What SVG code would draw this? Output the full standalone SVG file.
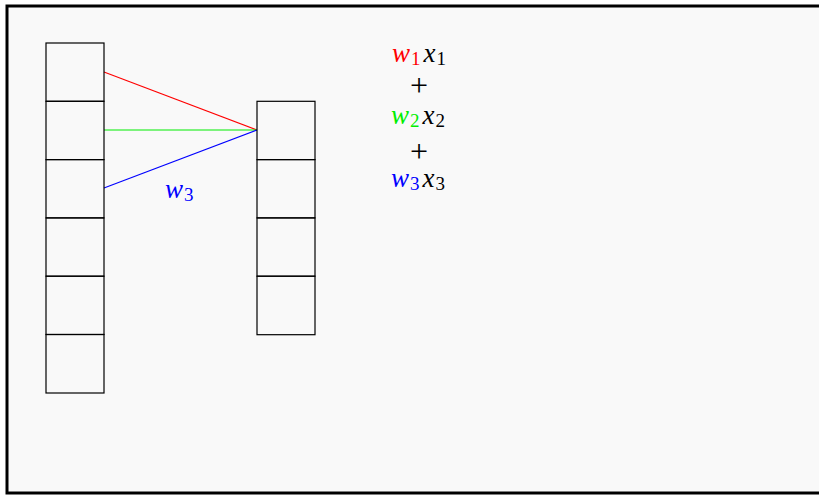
<svg xmlns="http://www.w3.org/2000/svg" width="819" height="495" viewBox="0 0 819 495">
<style>
.cell{fill:none;stroke:#000;stroke-width:1.2}
.t{font-family:"Liberation Serif","DejaVu Serif",serif;font-size:27px}
.i{font-style:italic}
.s{font-size:19px}
.p{font-family:"Liberation Serif","DejaVu Serif",serif;font-size:32px}
</style>
<rect x="0" y="0" width="819" height="495" fill="#fff"/>
<rect x="7" y="6" width="820" height="487" fill="#f9f9f9" stroke="#000" stroke-width="3"/>
<g id="connectors" fill="none" stroke-width="1.1">
<line x1="104" y1="72" x2="257" y2="130" stroke="#ff0000"/>
<line x1="104" y1="130" x2="257" y2="130" stroke="#00ee00"/>
<line x1="104" y1="188" x2="257" y2="130" stroke="#0000ff"/>
</g>
<g id="left-column">
<rect class="cell" x="46" y="43" width="58" height="58.3"/>
<rect class="cell" x="46" y="101.3" width="58" height="58.3"/>
<rect class="cell" x="46" y="159.6" width="58" height="58.3"/>
<rect class="cell" x="46" y="217.9" width="58" height="58.3"/>
<rect class="cell" x="46" y="276.2" width="58" height="58.3"/>
<rect class="cell" x="46" y="334.5" width="58" height="58.5"/>
</g>
<g id="right-column">
<rect class="cell" x="257" y="101.3" width="58" height="58.3"/>
<rect class="cell" x="257" y="159.6" width="58" height="58.3"/>
<rect class="cell" x="257" y="217.9" width="58" height="58.3"/>
<rect class="cell" x="257" y="276.2" width="58" height="58.5"/>
</g>
<g id="w3-label">
<text class="t" x="165" y="198" fill="#0000ff"><tspan class="i">w</tspan><tspan class="s" dx="1" dy="3">3</tspan></text>
</g>
<g id="sum">
<text class="t" x="392" y="62"><tspan class="i" fill="#ff0000">w</tspan><tspan class="s" dx="1" dy="3" fill="#ff0000">1</tspan><tspan class="i" dx="3" dy="-3">x</tspan><tspan class="s" dx="1" dy="3">1</tspan></text>
<text class="p" x="419" y="96" text-anchor="middle">+</text>
<text class="t" x="391" y="124"><tspan class="i" fill="#00ee00">w</tspan><tspan class="s" dx="1" dy="3" fill="#00ee00">2</tspan><tspan class="i" dx="3" dy="-3">x</tspan><tspan class="s" dx="1" dy="3">2</tspan></text>
<text class="p" x="419" y="162" text-anchor="middle">+</text>
<text class="t" x="391" y="187"><tspan class="i" fill="#0000ff">w</tspan><tspan class="s" dx="1" dy="3" fill="#0000ff">3</tspan><tspan class="i" dx="3" dy="-3">x</tspan><tspan class="s" dx="1" dy="3">3</tspan></text>
</g>
</svg>
